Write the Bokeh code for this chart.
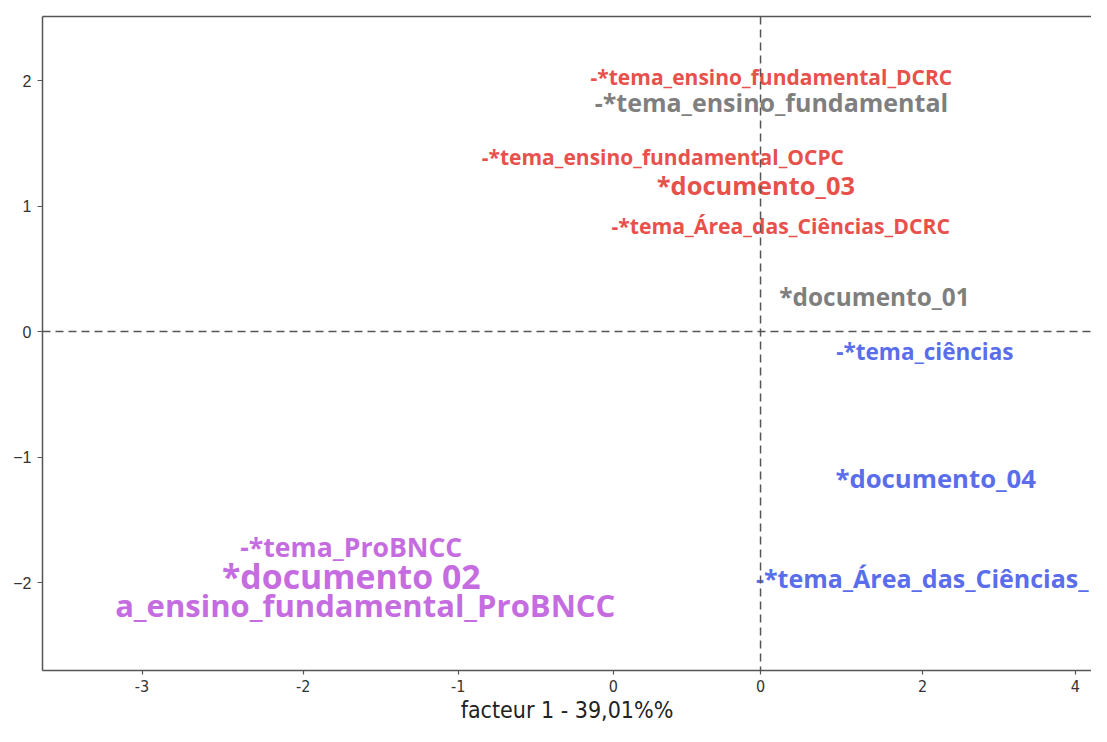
from bokeh.plotting import figure
from bokeh.models import ColumnDataSource, Span, FixedTicker, LinearAxis
from bokeh.core.properties import value
from bokeh.embed import file_html
from bokeh.resources import INLINE

# ---- data ----
labels = [
    "-*tema_ensino_fundamental_DCRC",
    "-*tema_ensino_fundamental",
    "-*tema_ensino_fundamental_OCPC",
    "*documento_03",
    "-*tema_Área_das_Ciências_DCRC",
    "*documento_01",
    "-*tema_ciências",
    "*documento_04",
    "-*tema_Área_das_Ciências_",
    "-*tema_ProBNCC",
    "*documento 02",
    "a_ensino_fundamental_ProBNCC",
]
fac1 = [0.07, 0.07, -0.63, -0.03, 0.13, 0.735, 1.06, 1.13, -0.03, -2.64, -2.64, -2.55]
fac2 = [2.03, 1.83, 1.39, 1.17, 0.845, 0.28, -0.16, -1.17, -1.96, -1.713, -1.95, -2.18]
groups = ["doc03", "doc01", "doc03", "doc03", "doc03", "doc01", "doc04", "doc04", "doc04",
          "doc02", "doc02", "doc02"]
sizes = [21, 25, 21, 25.4, 21.2, 24.4, 22.5, 25.7, 25, 26.6, 33.8, 31]
anchors = ["center"] * 8 + ["left"] + ["center"] * 3

x_tick_pos = [-3.99, -2.95, -1.95, -0.95, 0.0, 1.045, 2.03]
x_tick_lab = ["-3", "-2", "-1", "0", "0", "2", "4"]
y_tick_pos = [-2, -1, 0, 1, 2]
y_tick_lab = ["\u22122", "\u22121", "0", "1", "2"]
x_title = "facteur 1 - 39,01%%"

palette = {"doc01": "#7f7f7f", "doc02": "#c56de0", "doc03": "#e8514b", "doc04": "#5a6deb"}

p = figure(width=1091, height=726, output_backend="svg", toolbar_location=None,
           x_range=(-4.632, 2.135), y_range=(-2.70, 2.51),
           min_border_left=42, min_border_right=0, min_border_top=16, min_border_bottom=56)
p.grid.visible = False
p.outline_line_color = None
p.background_fill_color = "white"

border = "#555555"
p.add_layout(Span(location=0, dimension="height", line_color=border,
                  line_dash="8 5", line_width=1.5))
p.add_layout(Span(location=0, dimension="width", line_color=border,
                  line_dash="8 5", line_width=1.5))

font = value("Open Sans")
for i in range(len(labels)):
    src = ColumnDataSource(dict(x=[fac1[i]], y=[fac2[i]], t=[labels[i]]))
    p.text(x="x", y="y", text="t", source=src, text_color=palette[groups[i]],
           text_font_size=f"{sizes[i]}px", text_font=font, text_font_style="bold",
           text_align=anchors[i], text_baseline="middle")

# top border as an empty axis
top = LinearAxis(axis_line_color=border, axis_line_width=1.5,
                 major_tick_line_color=None, minor_tick_line_color=None,
                 major_label_standoff=0)
top.ticker = FixedTicker(ticks=[])
p.add_layout(top, "above")

# axes
xa = p.below[0]
ya = p.left[0]
xa.ticker = FixedTicker(ticks=x_tick_pos)
xa.major_label_overrides = {pos: lab for pos, lab in zip(x_tick_pos, x_tick_lab)}
ya.ticker = FixedTicker(ticks=y_tick_pos)
ya.major_label_overrides = {pos: lab for pos, lab in zip(y_tick_pos, y_tick_lab)}
for ax in (xa, ya):
    ax.axis_line_color = border
    ax.axis_line_width = 1.5
    ax.major_tick_line_color = border
    ax.major_tick_line_width = 1.2
    ax.major_tick_out = 5
    ax.major_tick_in = 0
    ax.minor_tick_line_color = None
    ax.major_label_text_color = "#333333"
xa.major_tick_out = 4
xa.major_label_text_font = "Liberation Sans Narrow, DejaVu Sans Condensed, sans-serif"
xa.major_label_text_font_size = "16px"
xa.major_label_standoff = 5
ya.major_label_text_font = "Liberation Sans, Arial, sans-serif"
ya.major_label_text_font_size = "16px"
ya.major_label_standoff = 6
xa.axis_label = x_title
xa.axis_label_text_font = "Liberation Sans Narrow, DejaVu Sans Condensed, sans-serif"
xa.axis_label_text_font_style = "normal"
xa.axis_label_text_font_size = "23px"
xa.axis_label_text_color = "#222222"
xa.axis_label_standoff = 2

open("out.html", "w").write(file_html(p, INLINE))
